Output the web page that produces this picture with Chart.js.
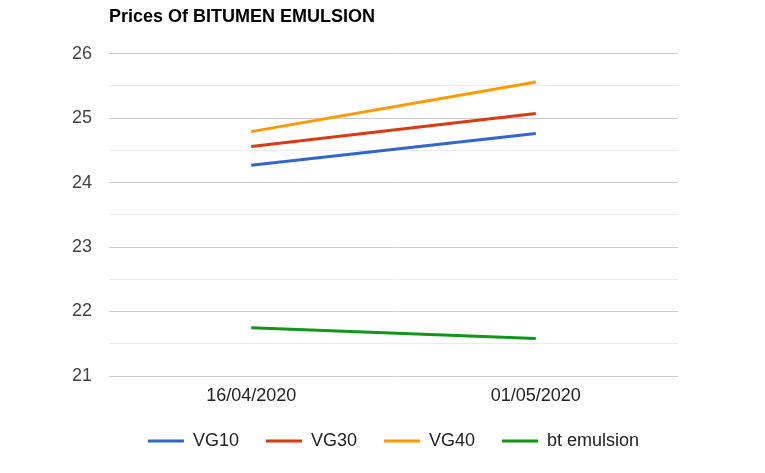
<!DOCTYPE html>
<html>
<head>
<meta charset="utf-8">
<script src="https://cdn.jsdelivr.net/npm/chart.js@4"></script>
<style>
  html, body { margin: 0; padding: 0; background: #fff; }
  #wrap { width: 765px; height: 473px; position: relative; }
</style>
</head>
<body>
<div id="wrap"><canvas id="priceChart"></canvas></div>
<script>
// ===== Bitumen emulsion prices =====
const dates = ['16/04/2020', '01/05/2020'];
const vg10 = [24.27, 24.76];
const vg30 = [24.56, 25.07];
const vg40 = [24.79, 25.56];
const btEmulsion = [21.75, 21.58];

const seriesNames = ['VG10', 'VG30', 'VG40', 'bt emulsion'];
const seriesColors = ['#3366cc', '#dc3912', '#ff9900', '#109618'];

const yMin = 21;
const yMax = 26;

const FONT = 'Arial, "Liberation Sans", sans-serif';

function makeDataset(i, values) {
    return {
        label: seriesNames[i],
        data: values,
        borderColor: seriesColors[i],
        backgroundColor: seriesColors[i],
        borderWidth: 3,
        pointRadius: 0,
        tension: 0
    };
}

const ctx = document.getElementById('priceChart').getContext('2d');

new Chart(ctx, {
    type: 'line',
    data: {
        labels: dates,
        datasets: [
            makeDataset(0, vg10),
            makeDataset(1, vg30),
            makeDataset(2, vg40),
            makeDataset(3, btEmulsion)
        ]
    },
    options: {
        responsive: true,
        maintainAspectRatio: false,
        animation: false,
        layout: { padding: { top: 6, right: 87, bottom: 13, left: 0 } },
        plugins: {
            title: {
                display: true,
                text: 'Prices Of BITUMEN EMULSION',
                align: 'start',
                fullSize: false,
                color: '#000',
                font: { family: FONT, size: 18, weight: 'bold' },
                padding: { top: 0, bottom: 26 }
            },
            legend: {
                position: 'bottom',
                fullSize: false,
                labels: {
                    color: '#222',
                    font: { family: FONT, size: 18 },
                    boxWidth: 36,
                    boxHeight: 3,
                    padding: 27,
                    generateLabels: chart => chart.data.datasets.map((ds, i) => ({
                        text: ds.label,
                        fillStyle: ds.borderColor,
                        strokeStyle: ds.borderColor,
                        lineWidth: 0,
                        fontColor: '#222',
                        datasetIndex: i,
                        hidden: false
                    }))
                }
            },
            tooltip: { enabled: false }
        },
        scales: {
            y: {
                min: yMin,
                max: yMax,
                border: { display: false },
                grid: {
                    drawTicks: false,
                    color: c => (c.tick && c.tick.value % 1 === 0) ? '#cccccc' : '#ebebeb',
                    lineWidth: 1
                },
                ticks: {
                    stepSize: 0.5,
                    padding: 17,
                    color: '#444',
                    font: { family: FONT, size: 18 },
                    callback: v => (v % 1 === 0 ? v : '')
                },
                afterFit: scale => { scale.width = 109; }
            },
            x: {
                offset: true,
                border: { display: false },
                grid: { display: false, drawTicks: false },
                ticks: {
                    padding: 9,
                    color: '#222',
                    font: { family: FONT, size: 18 }
                },
                afterFit: scale => { scale.height = 29; }
            }
        }
    }
});
</script>
</body>
</html>
